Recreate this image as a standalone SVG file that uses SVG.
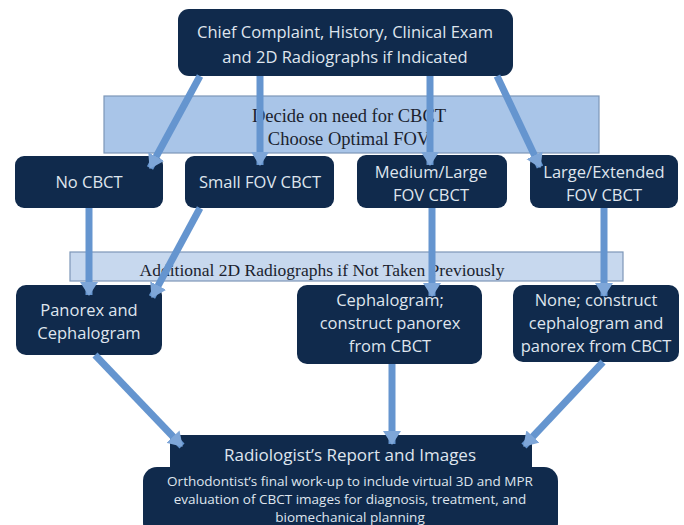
<svg xmlns="http://www.w3.org/2000/svg" width="684" height="525" viewBox="0 0 684 525">
<style>
.box{fill:#102a4c;}
.band{fill:#a9c5e8;stroke:#7d97b8;stroke-width:1.2;}
.band2{fill:#c7d8ee;stroke:#7d97b8;stroke-width:1.2;}
.t{font-family:"Open Sans","Liberation Sans",sans-serif;fill:#dfe5ee;text-anchor:middle;}
.s{font-family:"Liberation Serif","DejaVu Serif",serif;fill:#1b1f2e;text-anchor:middle;}
.c{stroke:#6595cf;stroke-width:7;fill:none;marker-end:url(#ah);}
</style>
<defs>
<marker id="ah" markerUnits="userSpaceOnUse" markerWidth="14" markerHeight="18" refX="13" refY="9" orient="auto">
<path d="M0,0 L14,9 L0,18 z" fill="#7ea6d8"/>
</marker>
</defs>
<rect width="684" height="525" fill="#ffffff"/>
<g id="band-decide">
<rect class="band" x="104" y="96" width="495" height="57"/>
<text class="s" x="349" y="122" font-size="18.5">Decide on need for CBCT</text>
<text class="s" x="349" y="145" font-size="18.5">Choose Optimal FOV</text>
</g>
<g id="band-additional">
<rect class="band2" x="70" y="252" width="553" height="29"/>
<text class="s" x="322" y="276" font-size="17.5">Additional 2D Radiographs if Not Taken Previously</text>
</g>
<g id="top">
<rect class="box" x="178" y="9" width="335" height="67" rx="11"/>
<text class="t" x="345" y="38" font-size="16.5">Chief Complaint, History, Clinical Exam</text>
<text class="t" x="345" y="63" font-size="16.5">and 2D Radiographs if Indicated</text>
</g>
<g id="no-cbct">
<rect class="box" x="15" y="156" width="148" height="52" rx="9"/>
<text class="t" x="89" y="188" font-size="16.5">No CBCT</text>
</g>
<g id="small-fov">
<rect class="box" x="185" y="156" width="149" height="52" rx="9"/>
<text class="t" x="260" y="188" font-size="16.5">Small FOV CBCT</text>
</g>
<g id="medium-fov">
<rect class="box" x="357" y="155" width="150" height="53" rx="9"/>
<text class="t" x="431" y="178" font-size="16.5">Medium/Large</text>
<text class="t" x="431" y="201" font-size="16.5">FOV CBCT</text>
</g>
<g id="large-fov">
<rect class="box" x="530" y="155" width="148" height="53" rx="9"/>
<text class="t" x="604" y="178" font-size="16.5">Large/Extended</text>
<text class="t" x="604" y="201" font-size="16.5">FOV CBCT</text>
</g>
<g id="panorex">
<rect class="box" x="16" y="285" width="146" height="70" rx="10"/>
<text class="t" x="89" y="316" font-size="16.5">Panorex and</text>
<text class="t" x="89" y="339" font-size="16.5">Cephalogram</text>
</g>
<g id="cephalogram">
<rect class="box" x="297" y="285" width="185" height="79" rx="10"/>
<text class="t" x="390" y="306" font-size="16.5">Cephalogram;</text>
<text class="t" x="390" y="329" font-size="16.5">construct panorex</text>
<text class="t" x="390" y="352" font-size="16.5">from CBCT</text>
</g>
<g id="none">
<rect class="box" x="513" y="285" width="166" height="77" rx="10"/>
<text class="t" x="596" y="306" font-size="16.5">None; construct</text>
<text class="t" x="596" y="329" font-size="16.5">cephalogram and</text>
<text class="t" x="596" y="352" font-size="16.5">panorex from CBCT</text>
</g>
<g id="report">
<rect class="box" x="170" y="435" width="362" height="42" rx="5"/>
<rect class="box" x="143" y="467" width="415" height="70" rx="14"/>
<text class="t" x="350" y="461" font-size="17">Radiologist’s Report and Images</text>
<text class="t" x="350" y="486" font-size="13.5">Orthodontist’s final work-up to include virtual 3D and MPR</text>
<text class="t" x="350" y="504" font-size="13.5">evaluation of CBCT images for diagnosis, treatment, and</text>
<text class="t" x="350" y="522" font-size="13.5">biomechanical planning</text>
</g>
<g id="connectors">
<line class="c" x1="200" y1="76" x2="150" y2="168"/>
<line class="c" x1="260" y1="76" x2="260" y2="165"/>
<line class="c" x1="430" y1="76" x2="430" y2="165"/>
<line class="c" x1="497" y1="76" x2="540" y2="167"/>
<line class="c" x1="89" y1="208" x2="89" y2="295"/>
<line class="c" x1="200" y1="208" x2="152" y2="297"/>
<line class="c" x1="432" y1="208" x2="432" y2="296"/>
<line class="c" x1="604" y1="208" x2="604" y2="296"/>
<line class="c" x1="95" y1="355" x2="182" y2="446"/>
<line class="c" x1="392" y1="364" x2="392" y2="444"/>
<line class="c" x1="603" y1="362" x2="524" y2="446"/>
</g>
</svg>
